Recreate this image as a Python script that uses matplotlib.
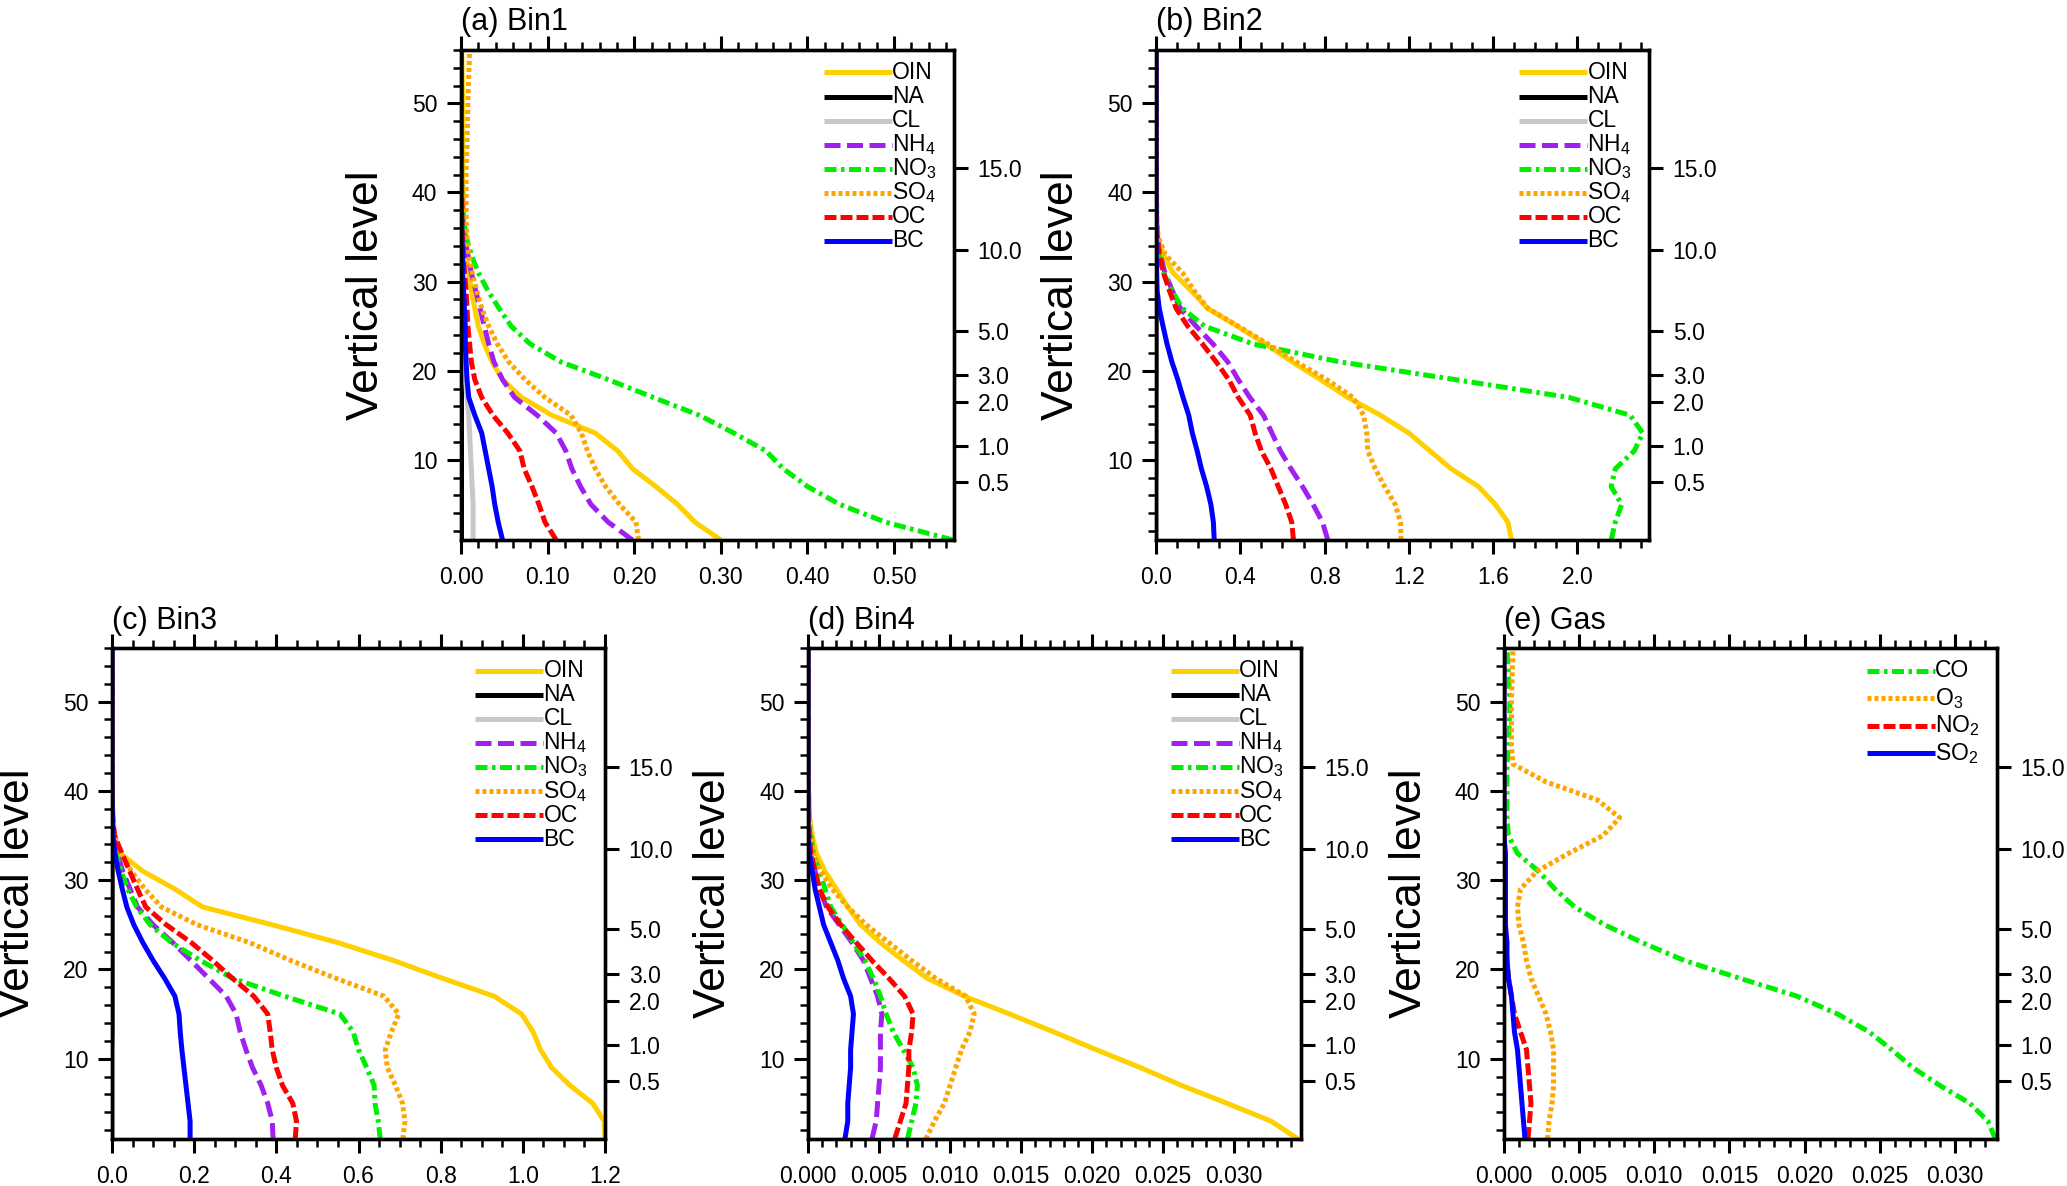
import numpy as np
import matplotlib.pyplot as plt
from matplotlib.ticker import MultipleLocator, FormatStrFormatter, NullLocator

plt.rcParams['font.family'] = ['Liberation Sans', 'DejaVu Sans']
plt.rcParams['mathtext.fontset'] = 'custom'
plt.rcParams['mathtext.rm'] = 'Liberation Sans'
plt.rcParams['mathtext.it'] = 'Liberation Sans:italic'

# model levels at which the profiles were read
levels = [1, 3, 5, 7, 9, 11, 13, 15, 17, 19, 21, 23, 25, 27, 29, 31, 33, 35, 37, 39, 41, 43, 45, 50, 56]

# right axis: height (km) labels at model levels
height_levels = [7.5, 11.5, 16.5, 19.5, 24.5, 33.5, 42.7]
height_labels = ['0.5', '1.0', '2.0', '3.0', '5.0', '10.0', '15.0']

# ---- (a) Bin1
oin_a = [0.300, 0.270, 0.250, 0.225, 0.198, 0.181, 0.155, 0.105, 0.070, 0.048, 0.036, 0.027, 0.020, 0.016, 0.012, 0.009, 0.006, 0.004, 0.003, 0.003, 0.002, 0.002, 0.002, 0.002, 0.001]
na_a = [0.0, 0.0, 0.0, 0.0, 0.0, 0.0, 0.0, 0.0, 0.0, 0.0, 0.0, 0.0, 0.0, 0.0, 0.0, 0.0, 0.0, 0.0, 0.0, 0.0, 0.0, 0.0, 0.0, 0.0, 0.0]
cl_a = [0.014, 0.014, 0.014, 0.013, 0.012, 0.011, 0.010, 0.009, 0.007, 0.005, 0.003, 0.002, 0.001, 0.001, 0.0, 0.0, 0.0, 0.0, 0.0, 0.0, 0.0, 0.0, 0.0, 0.0, 0.0]
nh4_a = [0.198, 0.170, 0.150, 0.138, 0.128, 0.121, 0.110, 0.088, 0.062, 0.048, 0.038, 0.032, 0.027, 0.022, 0.017, 0.012, 0.008, 0.004, 0.002, 0.001, 0.001, 0.0, 0.0, 0.0, 0.0]
no3_a = [0.568, 0.490, 0.437, 0.400, 0.372, 0.352, 0.315, 0.275, 0.222, 0.170, 0.115, 0.080, 0.058, 0.044, 0.031, 0.020, 0.012, 0.006, 0.003, 0.002, 0.001, 0.001, 0.001, 0.0, 0.0]
so4_a = [0.205, 0.202, 0.183, 0.167, 0.155, 0.146, 0.139, 0.127, 0.097, 0.074, 0.055, 0.042, 0.032, 0.024, 0.018, 0.013, 0.009, 0.007, 0.006, 0.006, 0.006, 0.006, 0.007, 0.008, 0.010]
oc_a = [0.110, 0.097, 0.090, 0.082, 0.073, 0.068, 0.054, 0.037, 0.024, 0.016, 0.012, 0.010, 0.008, 0.007, 0.006, 0.004, 0.003, 0.002, 0.001, 0.001, 0.0, 0.0, 0.0, 0.0, 0.0]
bc_a = [0.048, 0.043, 0.039, 0.036, 0.032, 0.028, 0.024, 0.016, 0.009, 0.007, 0.006, 0.005, 0.005, 0.004, 0.003, 0.002, 0.002, 0.001, 0.001, 0.0, 0.0, 0.0, 0.0, 0.0, 0.0]

# ---- (b) Bin2
oin_b = [1.687, 1.670, 1.610, 1.530, 1.400, 1.300, 1.200, 1.065, 0.910, 0.780, 0.645, 0.520, 0.385, 0.245, 0.165, 0.080, 0.035, 0.005, 0.003, 0.002, 0.002, 0.002, 0.002, 0.001, 0.001]
na_b = [0.0, 0.0, 0.0, 0.0, 0.0, 0.0, 0.0, 0.0, 0.0, 0.0, 0.0, 0.0, 0.0, 0.0, 0.0, 0.0, 0.0, 0.0, 0.0, 0.0, 0.0, 0.0, 0.0, 0.0, 0.0]
cl_b = [0.002, 0.002, 0.002, 0.002, 0.001, 0.001, 0.001, 0.001, 0.001, 0.0, 0.0, 0.0, 0.0, 0.0, 0.0, 0.0, 0.0, 0.0, 0.0, 0.0, 0.0, 0.0, 0.0, 0.0, 0.0]
nh4_b = [0.815, 0.790, 0.745, 0.695, 0.640, 0.590, 0.550, 0.510, 0.445, 0.390, 0.340, 0.270, 0.190, 0.115, 0.077, 0.042, 0.020, 0.006, 0.002, 0.001, 0.001, 0.0, 0.0, 0.0, 0.0]
no3_b = [2.160, 2.180, 2.210, 2.160, 2.180, 2.270, 2.310, 2.250, 1.960, 1.420, 0.870, 0.460, 0.230, 0.125, 0.075, 0.035, 0.015, 0.005, 0.003, 0.002, 0.001, 0.001, 0.0, 0.0, 0.0]
so4_b = [1.163, 1.160, 1.135, 1.085, 1.040, 1.005, 1.000, 0.985, 0.935, 0.810, 0.665, 0.530, 0.390, 0.245, 0.180, 0.125, 0.045, 0.010, 0.004, 0.003, 0.002, 0.002, 0.002, 0.001, 0.001]
oc_b = [0.652, 0.644, 0.615, 0.580, 0.545, 0.500, 0.470, 0.447, 0.390, 0.345, 0.285, 0.220, 0.150, 0.095, 0.063, 0.035, 0.015, 0.005, 0.002, 0.001, 0.0, 0.0, 0.0, 0.0, 0.0]
bc_b = [0.276, 0.272, 0.260, 0.240, 0.215, 0.195, 0.172, 0.155, 0.128, 0.103, 0.075, 0.052, 0.033, 0.015, 0.005, 0.003, 0.001, 0.0, 0.0, 0.0, 0.0, 0.0, 0.0, 0.0, 0.0]

# ---- (c) Bin3
oin_c = [1.200, 1.198, 1.170, 1.115, 1.070, 1.043, 1.025, 0.997, 0.930, 0.805, 0.685, 0.550, 0.390, 0.220, 0.153, 0.075, 0.020, 0.005, 0.002, 0.001, 0.001, 0.001, 0.001, 0.001, 0.001]
na_c = [0.0, 0.0, 0.0, 0.0, 0.0, 0.0, 0.0, 0.0, 0.0, 0.0, 0.0, 0.0, 0.0, 0.0, 0.0, 0.0, 0.0, 0.0, 0.0, 0.0, 0.0, 0.0, 0.0, 0.0, 0.0]
cl_c = [0.001, 0.001, 0.001, 0.001, 0.001, 0.001, 0.0, 0.0, 0.0, 0.0, 0.0, 0.0, 0.0, 0.0, 0.0, 0.0, 0.0, 0.0, 0.0, 0.0, 0.0, 0.0, 0.0, 0.0, 0.0]
nh4_c = [0.392, 0.390, 0.379, 0.363, 0.342, 0.326, 0.312, 0.302, 0.278, 0.235, 0.192, 0.148, 0.100, 0.062, 0.044, 0.026, 0.013, 0.004, 0.001, 0.0, 0.0, 0.0, 0.0, 0.0, 0.0]
no3_c = [0.653, 0.648, 0.640, 0.638, 0.620, 0.600, 0.587, 0.555, 0.420, 0.294, 0.215, 0.145, 0.093, 0.060, 0.038, 0.022, 0.010, 0.004, 0.001, 0.0, 0.0, 0.0, 0.0, 0.0, 0.0]
so4_c = [0.708, 0.713, 0.707, 0.690, 0.670, 0.665, 0.680, 0.698, 0.662, 0.545, 0.435, 0.335, 0.207, 0.120, 0.080, 0.047, 0.022, 0.007, 0.002, 0.001, 0.001, 0.001, 0.001, 0.001, 0.001]
oc_c = [0.446, 0.449, 0.440, 0.415, 0.400, 0.390, 0.385, 0.379, 0.345, 0.293, 0.245, 0.193, 0.132, 0.082, 0.062, 0.043, 0.024, 0.006, 0.002, 0.0, 0.0, 0.0, 0.0, 0.0, 0.0]
bc_c = [0.190, 0.190, 0.185, 0.180, 0.175, 0.170, 0.166, 0.163, 0.153, 0.128, 0.100, 0.075, 0.053, 0.036, 0.025, 0.015, 0.007, 0.002, 0.001, 0.0, 0.0, 0.0, 0.0, 0.0, 0.0]

# ---- (d) Bin4
oin_d = [0.0345, 0.0326, 0.0295, 0.0263, 0.0234, 0.0203, 0.0173, 0.0142, 0.0110, 0.0084, 0.0067, 0.0051, 0.0037, 0.0028, 0.0020, 0.0012, 0.0006, 0.0003, 0.0001, 0.0001, 0.0, 0.0, 0.0, 0.0, 0.0]
na_d = [0.0, 0.0, 0.0, 0.0, 0.0, 0.0, 0.0, 0.0, 0.0, 0.0, 0.0, 0.0, 0.0, 0.0, 0.0, 0.0, 0.0, 0.0, 0.0, 0.0, 0.0, 0.0, 0.0, 0.0, 0.0]
cl_d = [0.0, 0.0, 0.0, 0.0, 0.0, 0.0, 0.0, 0.0, 0.0, 0.0, 0.0, 0.0, 0.0, 0.0, 0.0, 0.0, 0.0, 0.0, 0.0, 0.0, 0.0, 0.0, 0.0, 0.0, 0.0]
nh4_d = [0.0045, 0.0048, 0.0049, 0.0050, 0.0051, 0.0051, 0.0051, 0.0052, 0.0049, 0.0044, 0.0039, 0.0031, 0.0022, 0.0013, 0.0008, 0.0005, 0.0002, 0.0001, 0.0, 0.0, 0.0, 0.0, 0.0, 0.0, 0.0]
no3_d = [0.0070, 0.0073, 0.0076, 0.0077, 0.0074, 0.0067, 0.0060, 0.0055, 0.0051, 0.0046, 0.0040, 0.0032, 0.0024, 0.0016, 0.0012, 0.0008, 0.0004, 0.0002, 0.0001, 0.0, 0.0, 0.0, 0.0, 0.0, 0.0]
so4_d = [0.0083, 0.0089, 0.0096, 0.0100, 0.0104, 0.0108, 0.0114, 0.0117, 0.0111, 0.0090, 0.0073, 0.0057, 0.0041, 0.0028, 0.0017, 0.0009, 0.0004, 0.0002, 0.0001, 0.0, 0.0, 0.0, 0.0, 0.0, 0.0]
oc_d = [0.0061, 0.0065, 0.0069, 0.0070, 0.0071, 0.0071, 0.0073, 0.0074, 0.0068, 0.0057, 0.0045, 0.0034, 0.0023, 0.0014, 0.0008, 0.0005, 0.0002, 0.0001, 0.0, 0.0, 0.0, 0.0, 0.0, 0.0, 0.0]
bc_d = [0.0026, 0.0028, 0.0028, 0.0029, 0.0030, 0.0030, 0.0031, 0.0032, 0.0030, 0.0025, 0.0021, 0.0016, 0.0011, 0.0008, 0.0005, 0.0003, 0.0001, 0.0, 0.0, 0.0, 0.0, 0.0, 0.0, 0.0, 0.0]

# ---- (e) Gas
co_e = [0.0327, 0.0322, 0.0310, 0.0290, 0.0272, 0.0258, 0.0243, 0.0222, 0.0195, 0.0157, 0.0120, 0.0092, 0.0067, 0.0047, 0.0034, 0.0023, 0.0009, 0.0003, 0.0002, 0.0002, 0.0002, 0.0002, 0.0003, 0.0004, 0.0002]
o3_e = [0.0029, 0.0030, 0.0032, 0.0033, 0.0033, 0.0033, 0.0031, 0.0028, 0.0023, 0.0018, 0.0015, 0.0013, 0.0010, 0.0009, 0.0011, 0.0022, 0.0043, 0.0066, 0.0077, 0.0062, 0.0028, 0.0006, 0.0005, 0.0005, 0.0006]
no2_e = [0.0016, 0.0017, 0.0018, 0.0017, 0.0016, 0.0015, 0.0011, 0.0007, 0.0005, 0.0003, 0.0002, 0.0001, 0.0001, 0.0001, 0.0, 0.0, 0.0, 0.0, 0.0, 0.0, 0.0, 0.0, 0.0, 0.0, 0.0]
so2_e = [0.0014, 0.0013, 0.0012, 0.0011, 0.0010, 0.0009, 0.0007, 0.0006, 0.0005, 0.0003, 0.0002, 0.0002, 0.0001, 0.0001, 0.0001, 0.0001, 0.0001, 0.0, 0.0, 0.0, 0.0, 0.0, 0.0, 0.0, 0.0]

aer_labels = ['OIN', 'NA', 'CL', 'NH$_4$', 'NO$_3$', 'SO$_4$', 'OC', 'BC']
gas_labels = ['CO', 'O$_3$', 'NO$_2$', 'SO$_2$']

# styles: (colour, dash pattern)  None = solid
sty = {
    'OIN': ('#FFD000', None),
    'NA': ('black', None),
    'CL': ('#C8C8C8', None),
    'NH$_4$': ('#A020F0', (3.2, 1.3)),
    'NO$_3$': ('#00EE00', (2.4, 0.9, 0.7, 0.9)),
    'SO$_4$': ('#FFA500', (0.8, 0.6)),
    'OC': ('#FF0000', (2.4, 0.8)),
    'BC': ('#0000FF', None),
    'CO': ('#00EE00', (2.4, 0.9, 0.7, 0.9)),
    'O$_3$': ('#FFA500', (0.8, 0.6)),
    'NO$_2$': ('#FF0000', (2.4, 0.8)),
    'SO$_2$': ('#0000FF', None),
}

panels = [
    ('(a) Bin1', aer_labels, [oin_a, na_a, cl_a, nh4_a, no3_a, so4_a, oc_a, bc_a], 0.569, 0.1, 0.02, '%.2f'),
    ('(b) Bin2', aer_labels, [oin_b, na_b, cl_b, nh4_b, no3_b, so4_b, oc_b, bc_b], 2.34, 0.4, 0.1, '%.1f'),
    ('(c) Bin3', aer_labels, [oin_c, na_c, cl_c, nh4_c, no3_c, so4_c, oc_c, bc_c], 1.2, 0.2, 0.05, '%.1f'),
    ('(d) Bin4', aer_labels, [oin_d, na_d, cl_d, nh4_d, no3_d, so4_d, oc_d, bc_d], 0.0347, 0.005, 0.001, '%.3f'),
    ('(e) Gas', gas_labels, [co_e, o3_e, no2_e, so2_e], 0.0328, 0.005, 0.001, '%.3f'),
]

pos = [
    [0.2230, 0.5447, 0.2385, 0.4132],
    [0.5593, 0.5447, 0.2385, 0.4132],
    [0.0542, 0.0396, 0.2385, 0.4140],
    [0.3909, 0.0396, 0.2385, 0.4140],
    [0.7276, 0.0396, 0.2385, 0.4140],
]

fig = plt.figure(figsize=(20.67, 11.86), dpi=100)
lw = 3.6

for (title, labs, series, xmax, major, minor, fmt), p in zip(panels, pos):
    ax = fig.add_axes(p)
    for lab, vals in zip(labs, series):
        col, dash = sty[lab]
        ln, = ax.plot(vals, levels, color=col, lw=lw, solid_capstyle='butt')
        if dash is not None:
            ln.set_dashes(dash)
    ax.set_xlim(0, xmax)
    ax.set_ylim(1, 56)
    ax.xaxis.set_major_locator(MultipleLocator(major))
    ax.xaxis.set_minor_locator(MultipleLocator(minor))
    ax.xaxis.set_major_formatter(FormatStrFormatter(fmt))
    ax.yaxis.set_major_locator(MultipleLocator(10))
    ax.yaxis.set_minor_locator(MultipleLocator(2))
    ax.tick_params(which='major', direction='out', length=10, width=2.2, labelsize=16.5, top=True)
    ax.tick_params(which='minor', direction='out', length=5.5, width=1.8, top=True)
    ax.tick_params(axis='x', pad=9)
    ax.tick_params(axis='y', pad=7)
    for s in ax.spines.values():
        s.set_linewidth(2.4)
    ax.set_ylabel('Vertical level', fontsize=32)
    ax.yaxis.set_label_coords(-0.15, 0.5)
    ax.set_title(title, loc='left', fontsize=22, pad=14)

    # right axis with heights
    tw = ax.twinx()
    tw.set_ylim(1, 56)
    tw.set_yticks(height_levels)
    tw.set_yticklabels(height_labels)
    tw.yaxis.set_minor_locator(NullLocator())
    tw.tick_params(direction='out', length=10, width=2.2, labelsize=16.5, pad=7)
    for s in tw.spines.values():
        s.set_linewidth(2.4)

    # legend drawn by hand (line ending at the label)
    dy = 0.0491 if len(labs) > 4 else 0.056
    for i, lab in enumerate(labs):
        col, dash = sty[lab]
        y = 0.954 - i * dy
        ln, = ax.plot([0.736, 0.875], [y, y], transform=ax.transAxes, color=col, lw=lw,
                      solid_capstyle='butt', clip_on=False)
        if dash is not None:
            ln.set_dashes(dash)
        ax.text(0.875, y, lab, transform=ax.transAxes, ha='left', va='center', fontsize=16.5)

fig.savefig('out.png', dpi=100)
